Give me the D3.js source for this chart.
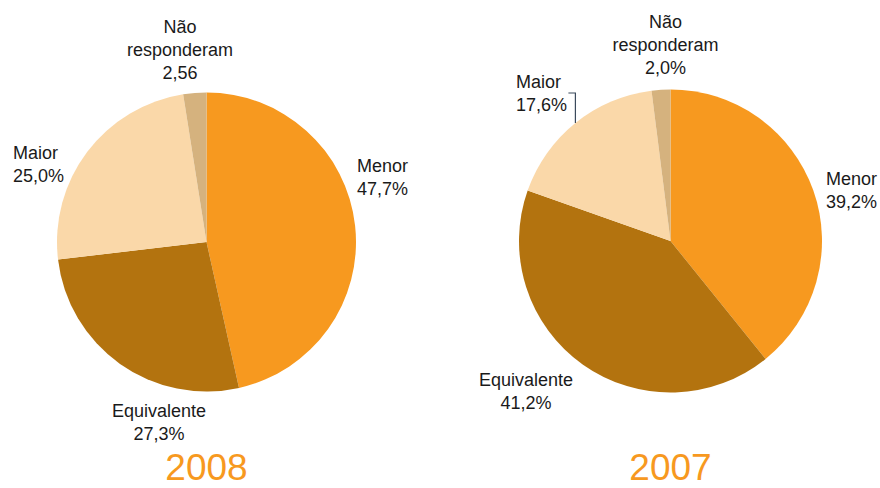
<!DOCTYPE html>
<html>
<head>
<meta charset="utf-8">
<script src="https://cdn.jsdelivr.net/npm/d3@7"></script>
<style>
  html, body { margin: 0; padding: 0; background: #ffffff; }
  svg { display: block; font-family: "Liberation Sans", Arial, Helvetica, sans-serif; }
</style>
</head>
<body>
<svg id="chart" width="880" height="488"></svg>
<script>
// Survey answers, slices drawn clockwise from 12 o'clock
const categories = ["Menor", "Equivalente", "Maior", "Não responderam"];
const values2008 = [47.7, 27.3, 25.0, 2.56];
const values2007 = [39.2, 41.2, 17.6, 2.0];
const valueLabels2008 = ["47,7%", "27,3%", "25,0%", "2,56"];
const valueLabels2007 = ["39,2%", "41,2%", "17,6%", "2,0%"];
const years = ["2008", "2007"];

const sliceColors = ["#F7991F", "#B3730F", "#FAD8A9", "#D5B27E"];
const yearColor = "#F7991F";

// Category names split over lines for the slice labels
const nameLines = {
  "Menor": ["Menor"],
  "Equivalente": ["Equivalente"],
  "Maior": ["Maior"],
  "Não responderam": ["Não", "responderam"]
};

// Panel layout: pie centre, radius and label placement relative to the centre
const panels = [
  {
    year: years[0], values: values2008, valueLabels: valueLabels2008,
    cx: 206.5, cy: 242, r: 149.5,
    labelPos: [
      { dx: 150.5, dy: -70, anchor: "start" },
      { dx: -47.5, dy: 175, anchor: "middle" },
      { dx: -193.5, dy: -83, anchor: "start" },
      { dx: -26.5, dy: -209, anchor: "middle" }
    ],
    leader: null
  },
  {
    year: years[1], values: values2007, valueLabels: valueLabels2007,
    cx: 670.5, cy: 241, r: 151.5,
    labelPos: [
      { dx: 155.5, dy: -56, anchor: "start" },
      { dx: -144.5, dy: 145, anchor: "middle" },
      { dx: -154.5, dy: -153, anchor: "start" },
      { dx: -5, dy: -213, anchor: "middle" }
    ],
    leader: { index: 2, topDy: -148, tick: 7 }
  }
];

const lineHeight = 23;
const svg = d3.select("#chart");
svg.append("rect").attr("width", 880).attr("height", 488).attr("fill", "#ffffff");

const pie = d3.pie().sort(null).value(d => d.value);
const color = d3.scaleOrdinal().domain(categories).range(sliceColors);

panels.forEach(p => {
  const data = categories.map((c, i) => ({ category: c, value: p.values[i], label: p.valueLabels[i] }));
  const arcs = pie(data);
  const arc = d3.arc().innerRadius(0).outerRadius(p.r);

  const g = svg.append("g").attr("transform", `translate(${p.cx},${p.cy})`);

  g.selectAll("path.slice")
    .data(arcs)
    .join("path")
    .attr("class", "slice")
    .attr("d", arc)
    .attr("fill", d => color(d.data.category));

  // Leader line from a label down to its slice edge
  if (p.leader) {
    const a = arcs[p.leader.index];
    const mid = (a.startAngle + a.endAngle) / 2;
    const ex = Math.sin(mid) * p.r;
    const ey = -Math.cos(mid) * p.r;
    g.append("path")
      .attr("d", `M${ex - p.leader.tick},${p.leader.topDy}H${ex}V${ey}`)
      .attr("fill", "none")
      .attr("stroke", "#3B4A5C")
      .attr("stroke-width", 1.2);
  }

  arcs.forEach((a, i) => {
    const pos = p.labelPos[i];
    const lines = nameLines[a.data.category].concat([a.data.label]);
    const t = g.append("text")
      .attr("text-anchor", pos.anchor)
      .attr("font-size", 18)
      .attr("fill", "#1a1a1a");
    lines.forEach((ln, k) => {
      t.append("tspan")
        .attr("x", pos.dx)
        .attr("y", pos.dy + k * lineHeight)
        .text(ln);
    });
  });

  svg.append("text")
    .attr("x", p.cx)
    .attr("y", 480)
    .attr("text-anchor", "middle")
    .attr("font-size", 37)
    .attr("fill", yearColor)
    .text(p.year);
});
</script>
</body>
</html>
